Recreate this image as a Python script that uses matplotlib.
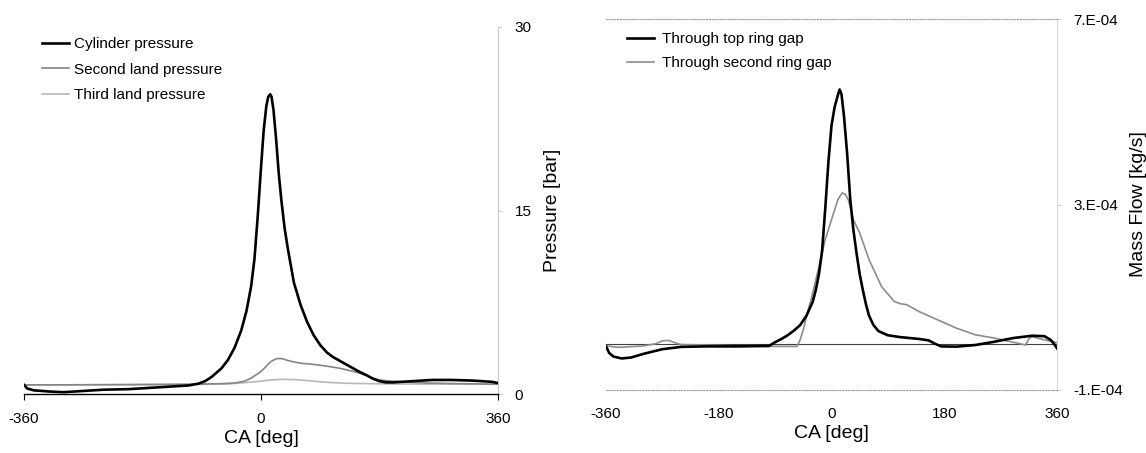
import matplotlib
matplotlib.use("Agg")
import matplotlib.pyplot as plt
import numpy as np

plt.rcParams['font.family'] = ['Liberation Sans', 'DejaVu Sans']
plt.rcParams['axes.unicode_minus'] = False

# ---------------- Left chart data (pressure, bar) ----------------
ca_cyl = [-360, -355, -345, -320, -300, -270, -240, -200, -170, -140, -110, -95, -85, -75,
          -60, -50, -40, -30, -22, -15, -10, -5, 0, 4, 8, 11, 14, 16, 19, 23, 27, 31, 36,
          41, 50, 60, 70, 80, 90, 100, 110, 120, 130, 140, 150, 160, 170, 180, 190, 200,
          230, 260, 290, 320, 350, 360]
p_cyl = [0.75, 0.45, 0.30, 0.20, 0.15, 0.25, 0.35, 0.40, 0.50, 0.60, 0.70, 0.85, 1.05, 1.40,
         2.1, 2.8, 3.8, 5.2, 6.8, 8.8, 11.0, 14.5, 18.5, 21.5, 23.5, 24.3, 24.5, 24.3, 23.2,
         20.8, 18.0, 15.8, 13.5, 11.8, 9.1, 7.3, 5.9, 4.8, 4.0, 3.4, 3.0, 2.7, 2.4, 2.1,
         1.8, 1.55, 1.25, 1.05, 0.95, 0.95, 1.05, 1.15, 1.15, 1.10, 1.0, 0.9]

ca_2nd = [-360, -300, -200, -100, -60, -40, -25, -15, -5, 0, 5, 10, 15, 20, 25, 30, 35, 40,
          50, 60, 80, 100, 120, 140, 150, 160, 170, 180, 200, 250, 300, 360]
p_2nd = [0.75, 0.75, 0.78, 0.80, 0.85, 0.90, 1.05, 1.30, 1.65, 1.85, 2.1, 2.4, 2.65, 2.8,
         2.9, 2.9, 2.85, 2.75, 2.62, 2.52, 2.42, 2.28, 2.1, 1.85, 1.7, 1.5, 1.3, 1.15, 1.05,
         0.9, 0.85, 0.8]

ca_3rd = [-360, -200, -100, -50, -20, 0, 15, 30, 50, 70, 90, 110, 130, 160, 200, 360]
p_3rd = [0.75, 0.75, 0.78, 0.82, 0.95, 1.05, 1.15, 1.2, 1.18, 1.1, 1.0, 0.93, 0.88, 0.85,
         0.82, 0.8]

left_xticks = [-360, 0, 360]
left_yticks = [0, 15, 30]

# ---------------- Right chart data (mass flow, kg/s) ----------------
ca_top = [-360, -355, -348, -335, -320, -300, -270, -240, -200, -150, -100, -90, -80, -70,
          -60, -50, -40, -30, -25, -20, -15, -10, -5, 0, 5, 10, 13, 16, 20, 25, 30, 35, 40,
          45, 50, 55, 60, 67, 75, 90, 110, 140, 155, 165, 175, 200, 230, 260, 290, 320,
          340, 350, 355, 360]
m_top = [-0.06, -0.20, -0.28, -0.32, -0.30, -0.22, -0.12, -0.07, -0.06, -0.06, -0.05, 0.03,
         0.10, 0.18, 0.28, 0.40, 0.60, 0.90, 1.16, 1.50, 2.0, 2.9, 3.9, 4.7, 5.1, 5.35, 5.48,
         5.38, 4.9, 4.1, 3.1, 2.45, 1.95, 1.5, 1.16, 0.85, 0.6, 0.4, 0.27, 0.18, 0.14, 0.10,
         0.07, 0.0, -0.06, -0.065, -0.03, 0.04, 0.12, 0.17, 0.16, 0.08, 0.0, -0.1]

ca_sec = [-360, -340, -300, -280, -270, -260, -250, -240, -200, -150, -100, -55, -50, -45,
          -40, -30, -20, -10, 0, 10, 17, 22, 27, 32, 35, 45, 60, 80, 100, 110, 120, 140,
          170, 200, 230, 260, 290, 310, 315, 320, 340, 360]
m_sec = [-0.05, -0.08, -0.05, 0.0, 0.06, 0.07, 0.02, -0.02, -0.03, -0.05, -0.06, -0.06, 0.08,
         0.3, 0.58, 1.09, 1.66, 2.24, 2.67, 3.1, 3.25, 3.22, 3.1, 2.85, 2.67, 2.39, 1.81, 1.23,
         0.91, 0.86, 0.84, 0.69, 0.51, 0.33, 0.19, 0.12, 0.03, -0.03, 0.1, 0.15, 0.08, 0.02]
flow_unit = 1e-4

right_xticks = [-360, -180, 0, 180, 360]
right_yticks = [-1e-4, 3e-4, 7e-4]
right_yticklabels = ['-1.E-04', '3.E-04', '7.E-04']

# ---------------- Figure ----------------
fig = plt.figure(figsize=(11.46, 4.53), dpi=100)
ax1 = fig.add_axes([0.0209, 0.1302, 0.4137, 0.8102])
ax2 = fig.add_axes([0.5288, 0.1391, 0.3935, 0.8189])

tick_fs = 11
label_fs = 14
leg_fs = 11

# Left
ax1.plot(ca_cyl, p_cyl, color='black', lw=1.9, label='Cylinder pressure', zorder=4)
ax1.plot(ca_2nd, p_2nd, color='#858585', lw=1.2, label='Second land pressure', zorder=3)
ax1.plot(ca_3rd, p_3rd, color='#b8b8b8', lw=1.2, label='Third land pressure', zorder=2)
ax1.set_xlim(-360, 360)
ax1.set_ylim(0, 30)
ax1.set_xticks(left_xticks)
ax1.set_yticks(left_yticks)
for s in ['left', 'top']:
    ax1.spines[s].set_visible(False)
ax1.spines['bottom'].set_color('black')
ax1.spines['bottom'].set_linewidth(1.0)
ax1.spines['right'].set_color('#c8c8c8')
ax1.spines['right'].set_linewidth(0.8)
ax1.yaxis.tick_right()
ax1.yaxis.set_label_position('right')
ax1.tick_params(axis='x', direction='out', length=4, width=0.8, pad=9, labelsize=tick_fs)
ax1.tick_params(axis='y', direction='out', length=3, width=0.6, color='#c0c0c0', pad=9,
                labelsize=tick_fs)
ax1.set_xlabel('CA [deg]', fontsize=label_fs, labelpad=3)
ax1.set_ylabel('Pressure [bar]', fontsize=label_fs, labelpad=9)
ax1.legend(loc='upper left', bbox_to_anchor=(0.037, 0.918), bbox_transform=fig.transFigure,
           frameon=False, fontsize=leg_fs, handlelength=1.75, handletextpad=0.3,
           labelspacing=0.75, borderpad=0, borderaxespad=0)

# Right
ax2.axhline(0, color='#404040', lw=0.8, zorder=1)
ax2.plot(ca_top, np.array(m_top) * flow_unit, color='black', lw=1.9,
         label='Through top ring gap', zorder=4)
ax2.plot(ca_sec, np.array(m_sec) * flow_unit, color='#8c8c8c', lw=1.2,
         label='Through second ring gap', zorder=3)
ax2.set_xlim(-360, 360)
ax2.set_ylim(-1e-4, 7e-4)
ax2.set_xticks(right_xticks)
ax2.set_yticks(right_yticks)
ax2.set_yticklabels(right_yticklabels)
ax2.spines['left'].set_visible(False)
for s in ['top', 'bottom']:
    ax2.spines[s].set_color('#a0a0a0')
    ax2.spines[s].set_linewidth(0.8)
    ax2.spines[s].set_linestyle((0, (1, 1.5)))
ax2.spines['right'].set_color('#d8d8d8')
ax2.spines['right'].set_linewidth(0.8)
ax2.yaxis.tick_right()
ax2.yaxis.set_label_position('right')
ax2.tick_params(axis='x', length=0, pad=12, labelsize=tick_fs)
ax2.tick_params(axis='y', direction='out', length=3, width=0.6, color='#c0c0c0', pad=9,
                labelsize=tick_fs)
ax2.set_xlabel('CA [deg]', fontsize=label_fs, labelpad=3)
ax2.set_ylabel('Mass Flow [kg/s]', fontsize=label_fs, labelpad=5)
ax2.legend(loc='upper left', bbox_to_anchor=(0.547, 0.929), bbox_transform=fig.transFigure,
           frameon=False, fontsize=leg_fs, handlelength=1.75, handletextpad=0.55,
           labelspacing=0.65, borderpad=0, borderaxespad=0)

fig.savefig('out.png', dpi=100)
